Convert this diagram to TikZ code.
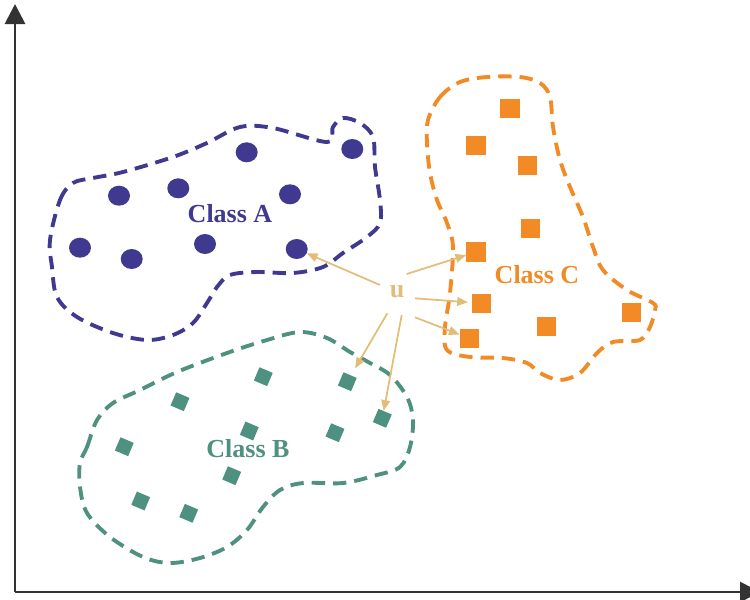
\documentclass[tikz,border=0pt]{standalone}
\usepackage{fontspec}
\setmainfont{Liberation Serif}
\usetikzlibrary{arrows.meta,shapes.geometric}
\definecolor{clsA}{HTML}{3F3A8F}
\definecolor{clsB}{HTML}{4F9181}
\definecolor{clsC}{HTML}{F28B25}
\definecolor{query}{HTML}{E2BD78}
\definecolor{axiscol}{HTML}{333333}
\begin{document}
\begin{tikzpicture}[x=0.75pt,y=-0.75pt,
  ptA/.style={ellipse, fill=clsA, minimum width=16.5pt, minimum height=15pt, inner sep=0pt},
  ptB/.style={rectangle, fill=clsB, minimum size=10.8pt, inner sep=0pt, rotate=-23},
  ptC/.style={rectangle, fill=clsC, minimum size=14.3pt, inner sep=0pt},
  region/.style={dash pattern=on 10pt off 6pt, line width=2.9pt},
  classlabel/.style={font=\fontsize{19.5}{23}\selectfont\bfseries},
  link/.style={draw=query, line width=1.3pt, -{Triangle[length=8pt,width=6.5pt]}},
  axisline/.style={draw=axiscol, line width=2.2pt, -{Triangle[length=15pt,width=15pt]}}
]
\clip (0,0) rectangle (750,600);

% axes
\coordinate (o) at (15,592);
\coordinate (ytip) at (15,4);
\coordinate (xtip) at (760,592);
\draw[axisline] (o) -- (ytip);
\draw[axisline] (o) -- (xtip);

% class regions
\draw[region, clsA] plot[smooth cycle, tension=0.55] coordinates {
  (50,240) (60,200) (73,183) (93,178) (123,172) (173,157) (207,143) (240,127)
  (273,128) (327,142) (333,127) (343,118) (360,123) (373,137) (375,167) (380,200)
  (380,223) (367,237) (343,253) (323,267) (293,273) (257,272) (230,275) (217,287)
  (207,303) (193,323) (173,335) (147,340) (113,333) (77,317) (57,297) (52,267)};
\draw[region, clsB] plot[smooth cycle, tension=0.55] coordinates {
  (80,463) (87,447) (97,420) (113,403) (140,390) (177,372) (227,353) (267,340)
  (300,332) (327,338) (350,352) (370,363) (390,375) (407,397) (413,420) (410,447)
  (400,467) (377,475) (343,483) (303,483) (280,490) (263,507) (247,530) (227,547)
  (200,558) (170,563) (143,557) (110,537) (87,513) (80,487)};
\draw[region, clsC] plot[smooth cycle, tension=0.55] coordinates {
  (428,120) (440,97) (460,82) (487,77) (520,77) (540,83) (550,97) (553,127)
  (560,160) (570,187) (583,217) (593,247) (603,270) (627,290) (653,303) (655,310)
  (650,327) (640,340) (613,342) (597,353) (580,373) (560,380) (540,373) (527,363)
  (503,358) (470,357) (447,350) (445,327) (450,293) (453,247) (447,223) (437,200)
  (430,173) (427,143)};

% class A points
\node[ptA] (a1) at (246.7,152.3) {};
\node[ptA] (a2) at (352.3,149) {};
\node[ptA] (a3) at (119,195.7) {};
\node[ptA] (a4) at (178.3,188.3) {};
\node[ptA] (a5) at (290,194.3) {};
\node[ptA] (a6) at (80,247.7) {};
\node[ptA] (a7) at (131.7,259) {};
\node[ptA] (a8) at (205,244) {};
\node[ptA] (a9) at (296.7,249) {};

% class B points
\node[ptB] (b1) at (263.3,376.7) {};
\node[ptB] (b2) at (347.3,381.7) {};
\node[ptB] (b3) at (180,401.7) {};
\node[ptB] (b4) at (249.3,431) {};
\node[ptB] (b5) at (335,432.7) {};
\node[ptB] (b6) at (382.3,418.3) {};
\node[ptB] (b7) at (124.3,446.7) {};
\node[ptB] (b8) at (231.7,475.7) {};
\node[ptB] (b9) at (140.7,501) {};
\node[ptB] (b10) at (188.7,513.3) {};

% class C points
\node[ptC] (c1) at (510,108.3) {};
\node[ptC] (c2) at (476,145.7) {};
\node[ptC] (c3) at (527.7,165.3) {};
\node[ptC] (c4) at (530.3,228.7) {};
\node[ptC] (c5) at (476,252) {};
\node[ptC] (c6) at (481.7,303.3) {};
\node[ptC] (c7) at (469.3,338.3) {};
\node[ptC] (c8) at (546.7,326.7) {};
\node[ptC] (c9) at (631.7,312.7) {};

% labels
\node[classlabel, text=clsA] (la) at (230,214) {Class A};
\node[classlabel, text=clsB] (lb) at (248,449) {Class B};
\node[classlabel, text=clsC] (lc) at (537,275) {Class C};
\node[classlabel, text=query, inner sep=0pt] (u) at (397,291.7) {u};

% query links
\draw[link] ([shift={(-17,-6.7)}]u.center) -- (a9);
\draw[link] ([shift={(9.7,-17.7)}]u.center) -- (c5);
\draw[link, shorten >=3pt] ([shift={(18,6.6)}]u.center) -- (c6);
\draw[link] ([shift={(18,25.6)}]u.center) -- (c7);
\draw[link, shorten >=6pt] ([shift={(-9.7,21.6)}]u.center) -- (b2);
\draw[link] ([shift={(4.7,23.3)}]u.center) -- (b6);
\end{tikzpicture}
\end{document}
